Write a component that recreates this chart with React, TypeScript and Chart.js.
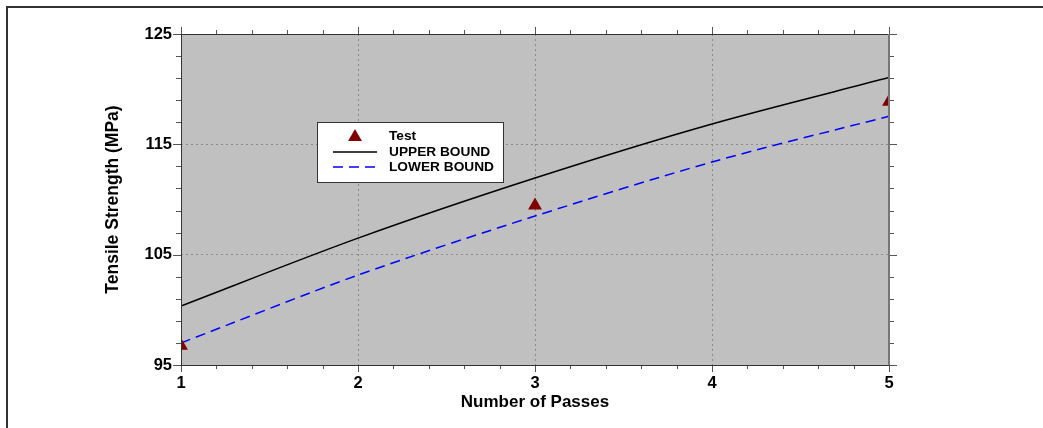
import React, { useEffect, useRef } from "react";
import { Chart, registerables } from "chart.js";

Chart.register(...registerables);

const passes = [1, 2, 3, 4, 5];
const upperBound = [100.35, 106.5, 111.95, 116.85, 121.05];
const lowerBound = [97.0, 103.15, 108.5, 113.4, 117.55];
const testPasses = [1, 3, 5];
const testValues = [96.75, 109.45, 118.85];
const legendLabels = ["Test", "UPPER BOUND", "LOWER BOUND"];
const xTitle = "Number of Passes";
const yTitle = "Tensile Strength (MPa)";

const FONT = "'Liberation Sans', Arial, sans-serif";
const TEST_COLOR = "#800000";

const framePlugin = {
  id: "framePlugin",
  beforeDraw(chart: any) {
    const { ctx, chartArea: a } = chart;
    ctx.save();
    ctx.fillStyle = "#c0c0c0";
    ctx.fillRect(a.left, a.top, a.right - a.left, a.bottom - a.top);
    ctx.restore();
  },
  afterDraw(chart: any) {
    const { ctx, chartArea: a, scales } = chart;
    const xs = scales.x;
    const ys = scales.y;
    ctx.save();
    // ticks
    ctx.strokeStyle = "#555";
    ctx.lineWidth = 1;
    ctx.beginPath();
    for (let i = 0; i <= 15; i++) {
      const v = 95 + i * 2;
      const py = Math.round(ys.getPixelForValue(v)) + 0.5;
      const len = i % 5 === 0 ? 8 : 5;
      ctx.moveTo(a.left - len, py);
      ctx.lineTo(a.left, py);
      ctx.moveTo(a.right, py);
      ctx.lineTo(a.right + len, py);
    }
    for (let i = 0; i <= 20; i++) {
      const v = 1 + i * 0.2;
      const px = Math.round(xs.getPixelForValue(v)) + 0.5;
      const len = i % 5 === 0 ? 7 : 4;
      ctx.moveTo(px, a.bottom);
      ctx.lineTo(px, a.bottom + len);
      ctx.moveTo(px, a.top - len);
      ctx.lineTo(px, a.top);
    }
    ctx.stroke();
    // axes frame
    ctx.strokeStyle = "#333";
    ctx.beginPath();
    ctx.moveTo(a.left + 0.5, a.top);
    ctx.lineTo(a.left + 0.5, a.bottom);
    ctx.moveTo(a.left, a.bottom + 0.5);
    ctx.lineTo(a.right, a.bottom + 0.5);
    ctx.moveTo(a.left, a.top + 0.5);
    ctx.lineTo(a.right, a.top + 0.5);
    ctx.stroke();
    ctx.strokeStyle = "#777";
    ctx.lineWidth = 2;
    ctx.beginPath();
    ctx.moveTo(a.right, a.top);
    ctx.lineTo(a.right, a.bottom);
    ctx.stroke();

    // legend
    const lx = 317, ly = 122, lw = 186, lh = 60;
    ctx.fillStyle = "#ffffff";
    ctx.fillRect(lx, ly, lw, lh);
    ctx.strokeStyle = "#333";
    ctx.lineWidth = 1;
    ctx.strokeRect(lx + 0.5, ly + 0.5, lw, lh);
    const rows = [136, 152, 167];
    // triangle
    const r = 8;
    const cx = 355, cy = rows[0] + 1;
    ctx.fillStyle = TEST_COLOR;
    ctx.beginPath();
    ctx.moveTo(cx, cy - r);
    ctx.lineTo(cx + Math.sin((2 * Math.PI) / 3) * r, cy - Math.cos((2 * Math.PI) / 3) * r);
    ctx.lineTo(cx + Math.sin((4 * Math.PI) / 3) * r, cy - Math.cos((4 * Math.PI) / 3) * r);
    ctx.closePath();
    ctx.fill();
    // solid line
    ctx.strokeStyle = "#000";
    ctx.lineWidth = 1.5;
    ctx.beginPath();
    ctx.moveTo(333, rows[1]);
    ctx.lineTo(377, rows[1]);
    ctx.stroke();
    // dashed
    ctx.strokeStyle = "#0000ff";
    ctx.setLineDash([10, 6]);
    ctx.beginPath();
    ctx.moveTo(333, rows[2]);
    ctx.lineTo(377, rows[2]);
    ctx.stroke();
    ctx.setLineDash([]);
    ctx.fillStyle = "#000";
    ctx.font = `bold 13.7px ${FONT}`;
    ctx.textBaseline = "middle";
    ctx.textAlign = "left";
    legendLabels.forEach((t, i) => ctx.fillText(t, 389, rows[i]));
    ctx.restore();
  },
};

export default function App() {
  const ref = useRef<HTMLCanvasElement | null>(null);
  useEffect(() => {
    if (!ref.current) return;
    const chart = new Chart(ref.current, {
      type: "line",
      data: {
        datasets: [
          {
            label: legendLabels[0],
            data: testPasses.map((x, i) => ({ x, y: testValues[i] })),
            showLine: false,
            pointStyle: "triangle",
            pointRadius: 8,
            pointBackgroundColor: TEST_COLOR,
            pointBorderColor: TEST_COLOR,
            pointBorderWidth: 0,
            clip: 0,
            order: 0,
          },
          {
            label: legendLabels[1],
            data: passes.map((x, i) => ({ x, y: upperBound[i] })),
            borderColor: "#000000",
            borderWidth: 1.5,
            pointRadius: 0,
            tension: 0.3,
            fill: false,
            order: 1,
          },
          {
            label: legendLabels[2],
            data: passes.map((x, i) => ({ x, y: lowerBound[i] })),
            borderColor: "#0000ff",
            borderWidth: 1.5,
            borderDash: [10, 6],
            pointRadius: 0,
            tension: 0.3,
            fill: false,
            order: 2,
          },
        ],
      },
      options: {
        animation: false,
        responsive: false,
        devicePixelRatio: 1,
        layout: { padding: { left: 0, top: 34, right: 154, bottom: 0 } },
        plugins: { legend: { display: false }, tooltip: { enabled: false } },
        scales: {
          x: {
            type: "linear",
            min: 1,
            max: 5,
            afterFit: (s: any) => {
              s.height = 63;
            },
            ticks: {
              stepSize: 1,
              color: "#000",
              font: { family: FONT, size: 16.5, weight: "bold" },
              padding: 9,
              maxRotation: 0,
            },
            grid: { color: "#8a8a8a", lineWidth: 1, drawTicks: false },
            border: { display: false, dash: [2, 3] },
            title: {
              display: true,
              text: xTitle,
              color: "#000",
              font: { family: FONT, size: 17, weight: "bold" },
              padding: { top: 0, bottom: 15 },
            },
          },
          y: {
            type: "linear",
            min: 95,
            max: 125,
            afterFit: (s: any) => {
              s.width = 181;
            },
            ticks: {
              stepSize: 10,
              color: "#000",
              font: { family: FONT, size: 16.5, weight: "bold" },
              padding: 9,
            },
            grid: { color: "#8a8a8a", lineWidth: 1, drawTicks: false },
            border: { display: false, dash: [2, 3] },
            title: {
              display: true,
              text: yTitle,
              color: "#000",
              font: { family: FONT, size: 17.5, weight: "bold" },
              padding: { top: 103, bottom: 0 },
            },
          },
        },
      },
      plugins: [framePlugin],
    });
    return () => chart.destroy();
  }, []);

  return (
    <div style={{ position: "fixed", left: 0, top: 0, width: 1043, height: 428, background: "#fff" }}>
      <div
        style={{
          position: "absolute",
          left: 6,
          top: 6,
          right: 0,
          bottom: 0,
          borderTop: "2px solid #333",
          borderLeft: "2px solid #333",
        }}
      />
      <canvas ref={ref} width={1043} height={428} style={{ position: "absolute", left: 0, top: 0 }} />
    </div>
  );
}
